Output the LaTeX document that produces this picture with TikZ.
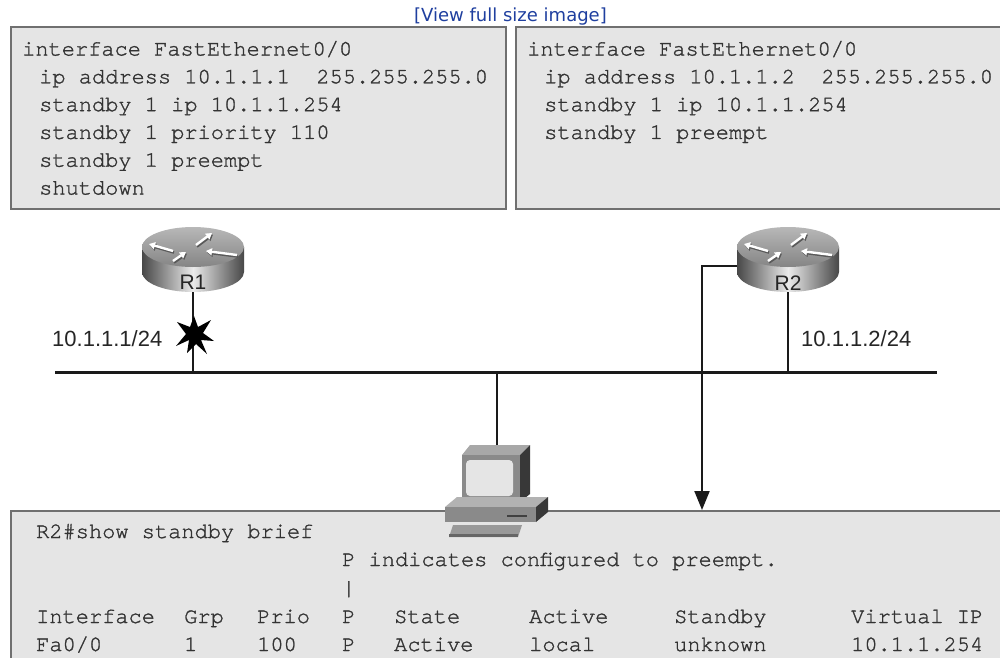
\documentclass[tikz,border=0pt]{standalone}
\usepackage{fontspec}
\usetikzlibrary{arrows.meta}
\newfontfamily\climono[FakeBold=1.3]{TeX Gyre Cursor}
\newfontfamily\labelsans{Liberation Sans}
\newfontfamily\linksans{DejaVu Sans}
\definecolor{boxfill}{HTML}{E5E5E5}
\definecolor{boxline}{HTML}{707070}
\definecolor{clitext}{HTML}{333333}
\definecolor{linkblue}{HTML}{1F3F9F}
\definecolor{wire}{HTML}{1A1A1A}
\tikzset{
  cfgbox/.style={fill=boxfill, draw=boxline, line width=2pt, anchor=north west, inner sep=0pt},
  cli/.style={font=\climono\fontsize{22}{26}\selectfont, text=clitext, anchor=base west, inner sep=0pt},
  addr/.style={font=\labelsans\fontsize{22}{26}\selectfont, text=black!85, anchor=base west, inner sep=0pt},
  rlabel/.style={font=\labelsans\fontsize{21}{22}\selectfont, text=black!85, anchor=base, inner sep=0pt},
  wireline/.style={draw=wire, line width=2pt},
  busline/.style={draw=wire, line width=3pt},
  topicon/.style={white, line width=2.4pt, -{Triangle[length=6pt,width=7pt]}},
  topshadow/.style={black!65, line width=2.4pt, -{Triangle[length=6pt,width=7pt]}},
  router/.pic={
    % cylinder side
    \shade[left color=black!72, right color=black!72, middle color=black!8]
      (-51,0) -- (-51,25) arc[start angle=180, end angle=0, x radius=51, y radius=20] -- (51,0) -- cycle;
    % top face
    \shade[top color=black!28, bottom color=black!48] (0,0) ellipse[x radius=51, y radius=20];
    % arrows on the top face
    \foreach \dx/\dy in {1/1.6} {
      \draw[topshadow, shift={(\dx,\dy)}] (-20,4) -- (-44,-3);
      \draw[topshadow, shift={(\dx,\dy)}] (44,8) -- (13,4);
      \draw[topshadow, shift={(\dx,\dy)}] (3,-2) -- (19,-14);
      \draw[topshadow, shift={(\dx,\dy)}] (-20,14) -- (-7,5);
    }
    \draw[topicon] (-20,4) -- (-44,-3);
    \draw[topicon] (44,8) -- (13,4);
    \draw[topicon] (3,-2) -- (19,-14);
    \draw[topicon] (-20,14) -- (-7,5);
    \coordinate (-bot) at (0,45);
    \coordinate (-w) at (-51,19);
  }
}
\begin{document}
\begin{tikzpicture}[x=1pt, y=-1pt]
\useasboundingbox (0,0) rectangle (1000,657);
\clip (0,0) rectangle (1000,657);
\fill[white] (0,0) rectangle (1000,657);

% link above the figure
\node[font=\linksans\fontsize{18}{20}\selectfont, text=linkblue, anchor=base, inner sep=0pt]
  (fullsize) at (510.5,21) {[View full size image]};

% configuration panels
\node[cfgbox, minimum width=495pt, minimum height=182pt] (cfgA) at (10,26) {};
\node[cfgbox, minimum width=495pt, minimum height=182pt] (cfgB) at (515,26) {};

\node[cli] (a1) at (22,55.5)  {interface FastEthernet0/0};
\node[cli] (a2) at (39,83.3)  {ip address 10.1.1.1\ \ 255.255.255.0};
\node[cli] (a3) at (39,111.1) {standby 1 ip 10.1.1.254};
\node[cli] (a4) at (39,138.9) {standby 1 priority 110};
\node[cli] (a5) at (39,166.7) {standby 1 preempt};
\node[cli] (a6) at (39,194.5) {shutdown};

\node[cli] (b1) at (527,55.5)  {interface FastEthernet0/0};
\node[cli] (b2) at (544,83.3)  {ip address 10.1.1.2\ \ 255.255.255.0};
\node[cli] (b3) at (544,111.1) {standby 1 ip 10.1.1.254};
\node[cli] (b4) at (544,138.9) {standby 1 preempt};

% output panel
\node[cfgbox, minimum width=1000pt, minimum height=170pt] (brief) at (10,510) {};

% routers
\pic (R1) at (193,247) {router};
\pic (R2) at (788,247) {router};
\node[rlabel] (r1name) at (193,289) {R1};
\node[rlabel] (r2name) at (788,290) {R2};

% LAN segment
\coordinate (busL) at (55,372);
\coordinate (busR) at (937,372);
\coordinate (busR1) at (193,372);
\coordinate (busR2) at (788,372);
\coordinate (busPC) at (497,372);
\coordinate (pcTop) at (497,448);
\path[busline] (busL) -- (busR);
\path[wireline] (R1-bot) -- (busR1);
\path[wireline] (R2-bot) -- (busR2);
\path[wireline] (busPC) -- (pcTop);

% failed interface on R1
\fill[black, shift={(194,335)}]
  (0,-19) -- (4,-8) -- (17,-15) -- (9,-2) -- (20,6) -- (7,5) -- (13,19) -- (2,9)
  -- (-7,18) -- (-5,5) -- (-18,11) -- (-8,-1) -- (-17,-13) -- (-4,-8) -- cycle;

\node[addr] (ip1) at (52,346) {10.1.1.1/24};
\node[addr] (ip2) at (801,346) {10.1.1.2/24};

% output of R2 points to the panel
\coordinate (tip) at (702,510);
\draw[wire, line width=2pt, -{Triangle[length=19pt,width=15pt]}] (R2-w) -| (tip);

% host
\fill[black!34] (462,455) -- (470,445) -- (530,445) -- (520,455) -- cycle;
\fill[black!78] (520,455) -- (530,445) -- (530,494) -- (520,502) -- cycle;
\fill[black!46] (462,455) rectangle (520,502);
\fill[black!10, rounded corners=4pt] (466,460) rectangle (513,496);
\fill[black!85] (466,499) rectangle (520,503);
\fill[black!30] (445,507) -- (457,497) -- (548,497) -- (536,507) -- cycle;
\fill[black!78] (536,507) -- (548,497) -- (548,512) -- (536,522) -- cycle;
\fill[black!46] (445,507) rectangle (536,522);
\draw[black!75, line width=1.5pt] (507,516) -- (527,516);
\fill[black!40] (453,525) -- (522,525) -- (518,537) -- (449,537) -- cycle;
\fill[black!60] (449,534) -- (518,534) -- (518,537) -- (449,537) -- cycle;
\node[inner sep=0pt, minimum size=0pt] (host) at (497,490) {};

% show standby brief
\node[cli] (c0) at (36,538) {R2\#show standby brief};
\node[cli] (c1) at (342,566) {P indicates configured to preempt.};
\node[cli] (c2) at (342,594.5) {|};
\node[cli] (h1) at (36,623) {Interface};
\node[cli] (h2) at (184,623) {Grp};
\node[cli] (h3) at (257,623) {Prio};
\node[cli] (h4) at (342,623) {P};
\node[cli] (h5) at (394,623) {State};
\node[cli] (h6) at (529,623) {Active};
\node[cli] (h7) at (674,623) {Standby};
\node[cli] (h8) at (851,623) {Virtual IP};
\node[cli] (v1) at (36,651) {Fa0/0};
\node[cli] (v2) at (184,651) {1};
\node[cli] (v3) at (257,651) {100};
\node[cli] (v4) at (342,651) {P};
\node[cli] (v5) at (394,651) {Active};
\node[cli] (v6) at (529,651) {local};
\node[cli] (v7) at (674,651) {unknown};
\node[cli] (v8) at (851,651) {10.1.1.254};
\end{tikzpicture}
\end{document}
